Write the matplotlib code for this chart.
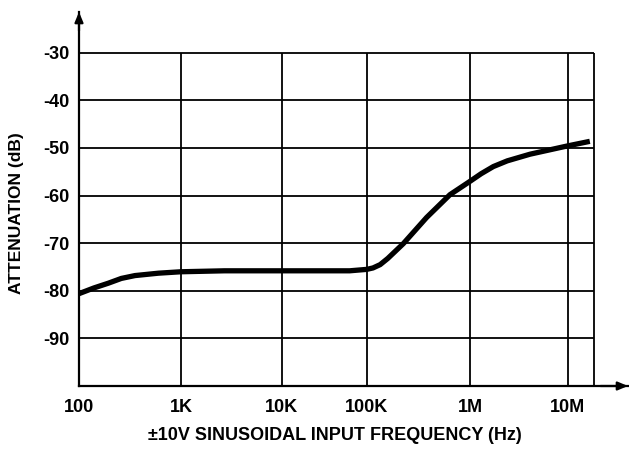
import numpy as np
import matplotlib
matplotlib.use("Agg")
import matplotlib.pyplot as plt
from matplotlib.ticker import FixedLocator, NullLocator

plt.rcParams['font.family'] = ['Liberation Sans', 'DejaVu Sans']

# ---- data ----
freq_hz = [100, 140, 194, 260, 354, 600, 1000, 2700, 10000, 63000, 100000, 115000,
           135000, 160000, 226000, 380000, 640000, 1000000, 1300000, 1730000,
           2400000, 4100000, 9700000, 16700000]
atten_db = [-80.6, -79.4, -78.4, -77.4, -76.8, -76.3, -76.0, -75.8, -75.8, -75.8,
            -75.5, -75.2, -74.5, -73.2, -70.1, -64.6, -59.8, -57.0, -55.4, -53.9,
            -52.7, -51.3, -49.6, -48.6]
x_ticks = [100, 1e3, 1e4, 1e5, 1e6, 1e7]
x_tick_labels = ["100", "1K", "10K", "100K", "1M", "10M"]
y_ticks = [-90, -80, -70, -60, -50, -40, -30]
y_tick_labels = ["-90", "-80", "-70", "-60", "-50", "-40", "-30"]
x_label = "\u00b110V SINUSOIDAL INPUT FREQUENCY (Hz)"
y_label = "ATTENUATION (dB)"
f_max = 1.84e7

# piecewise log scale (decade spacing of the original drawing)
_decs = np.array([2, 3, 4, 5, 6, 7, 8], dtype=float)
_pix = np.array([0, 102, 202.7, 287.7, 391, 489, 587], dtype=float)

def fwd(x):
    x = np.asarray(x, dtype=float)
    return np.interp(np.log10(np.clip(x, 1e-300, None)), _decs, _pix)

def inv(p):
    p = np.asarray(p, dtype=float)
    return 10 ** np.interp(p, _pix, _decs)

W, H = 629, 451
fig = plt.figure(figsize=(W / 100, H / 100), dpi=100)
ax = fig.add_axes([79 / W, 65 / H, (628 - 79) / W, (451 - 65 - 12) / H])
ax.set_xscale('function', functions=(fwd, inv))
ax.set_xlim(100, inv(fwd(1e7) + (628 - 568)))
ax.set_ylim(-100, -100 + (386 - 12) / 47.6 * 10)

for s in ['top', 'right']:
    ax.spines[s].set_visible(False)
for s in ['left', 'bottom']:
    ax.spines[s].set_linewidth(1.6)

# grid / frame
ax.hlines(y_ticks, 100, f_max, colors='black', linewidth=1.3, zorder=1)
ax.vlines(x_ticks[1:] + [f_max], -100, -30, colors='black', linewidth=1.3, zorder=1)

ax.plot(freq_hz, atten_db, color='black', linewidth=3.8,
        solid_capstyle='butt', solid_joinstyle='round', zorder=3)

ax.xaxis.set_major_locator(FixedLocator(x_ticks))
ax.xaxis.set_minor_locator(NullLocator())
ax.set_xticklabels(x_tick_labels)
ax.set_yticks(y_ticks)
ax.set_yticklabels(y_tick_labels)
ax.tick_params(axis='both', length=0, labelsize=13)
ax.tick_params(axis='x', pad=9)
ax.tick_params(axis='y', pad=7)
for lab in ax.get_xticklabels() + ax.get_yticklabels():
    lab.set_fontweight('bold')

# arrows
ax.annotate('', xy=(0, 1), xytext=(0, 0.95), xycoords='axes fraction',
            arrowprops=dict(arrowstyle='-|>,head_length=0.6,head_width=0.25',
                            color='black', lw=1.6, shrinkA=0, shrinkB=0))
ax.annotate('', xy=(1, 0), xytext=(0.95, 0), xycoords='axes fraction',
            arrowprops=dict(arrowstyle='-|>,head_length=0.6,head_width=0.25',
                            color='black', lw=1.6, shrinkA=0, shrinkB=0))

fig.text(335 / W, 1 - 436 / H, x_label, ha='center', va='center',
         fontsize=13, fontweight='bold')
fig.text(17 / W, 1 - 213 / H, y_label, ha='center', va='center',
         rotation=90, fontsize=12.5, fontweight='bold')

fig.savefig('out.png', dpi=100)
